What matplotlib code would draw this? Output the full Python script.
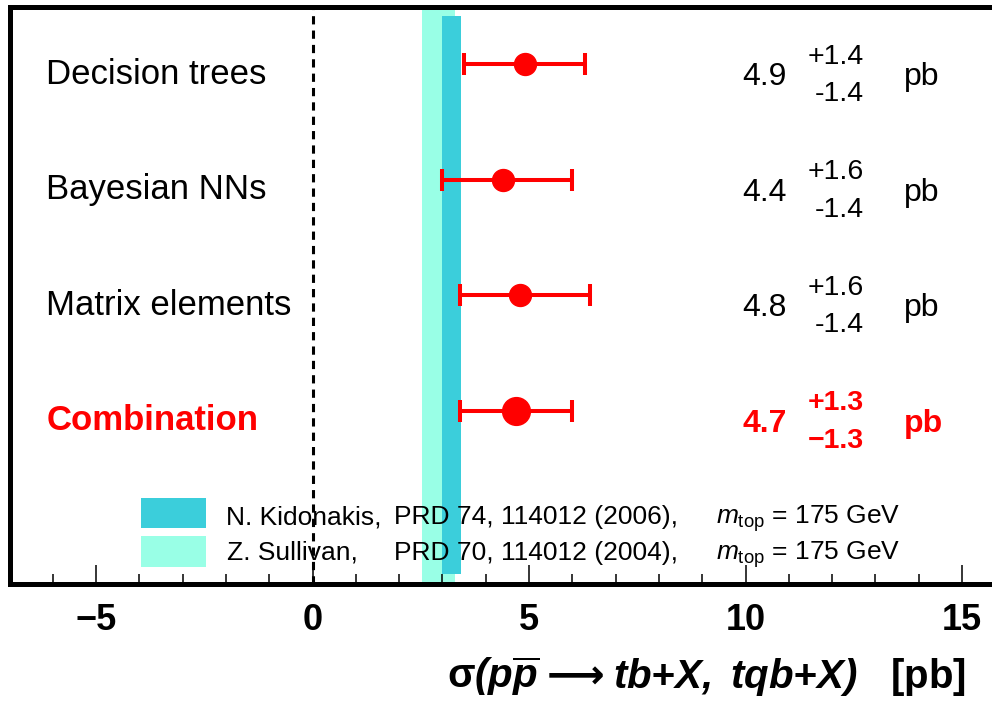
import matplotlib
matplotlib.use("Agg")
import matplotlib.pyplot as plt
from matplotlib.patches import Rectangle
from matplotlib.ticker import MultipleLocator

plt.rcParams['font.family'] = ['Liberation Sans', 'DejaVu Sans']
plt.rcParams['mathtext.fontset'] = 'custom'
plt.rcParams['mathtext.rm'] = 'Liberation Sans'
plt.rcParams['mathtext.it'] = 'Liberation Sans:italic'
plt.rcParams['mathtext.bf'] = 'Liberation Sans:bold'
plt.rcParams['mathtext.bfit'] = 'Liberation Sans:italic:bold'

# ---- data ----
methods = ['Decision trees', 'Bayesian NNs', 'Matrix elements', 'Combination']
central = [4.9, 4.4, 4.8, 4.7]
err_up = [1.4, 1.6, 1.6, 1.3]
err_dn = [1.4, 1.4, 1.4, 1.3]
rows = [4, 3, 2, 1]

theory_names = ['N. Kidonakis,', 'Z. Sullivan,']
theory_refs = ['PRD 74, 114012 (2006),', 'PRD 70, 114012 (2004),']
theory_lo = [2.99, 2.52]
theory_hi = [3.43, 3.28]
theory_colors = ['#3BCEDB', '#99FFE6']

RED = '#FF0000'

fig = plt.figure(figsize=(9.92, 7.08), dpi=100)
ax = fig.add_axes([9.5 / 992, 124 / 708, 985 / 992, 577.5 / 708])
ax.set_xlim(-7, 15.75)
ax.set_ylim(-0.5, 4.5)

# theory bands
ax.axvspan(theory_lo[1], theory_hi[1], ymin=0.0, ymax=1.0, color=theory_colors[1], lw=0, zorder=1)
ax.axvspan(theory_lo[0], theory_hi[0], ymin=0.018, ymax=0.984, color=theory_colors[0], lw=0, zorder=2)

# zero line
ax.axvline(0, color='black', lw=2.2, ls=(0, (2.7, 2.0)), zorder=3)

# measurements
for i, (c, up, dn, y) in enumerate(zip(central, err_up, err_dn, rows)):
    comb = (i == len(methods) - 1)
    ax.errorbar([c], [y], xerr=[[dn], [up]], fmt='o', color=RED,
                ms=20 if comb else 15.8, elinewidth=2.9, capsize=7.9,
                capthick=2.9, zorder=5)

# text annotations
for i, (name, c, up, dn, y) in enumerate(zip(methods, central, err_up, err_dn, rows)):
    comb = (i == len(methods) - 1)
    col = RED if comb else 'black'
    fw = 'bold' if comb else 'normal'
    ax.text(-6.15, y - 0.17, name, fontsize=25, color=col, fontweight=fw,
            ha='left', va='baseline', zorder=6)
    ax.text(9.93, y - 0.18, f'{c:.1f}', fontsize=23, color=col, fontweight=fw,
            ha='left', va='baseline', zorder=6)
    ax.text(12.73, y + 0.005, f'+{up:.1f}', fontsize=20.5, color=col, fontweight=fw,
            ha='right', va='baseline', zorder=6)
    minus = '\u2212' if comb else '-'
    ax.text(12.73, y - 0.32, f'{minus}{dn:.1f}', fontsize=20.5, color=col, fontweight=fw,
            ha='right', va='baseline', zorder=6)
    ax.text(13.65, y - 0.18, 'pb', fontsize=23, color=col, fontweight=fw,
            ha='left', va='baseline', zorder=6)

# legend (hand placed)
box_y = [(-0.015, 0.245), (-0.353, -0.084)]
text_y = [0.019, -0.292]
name_x = [-2.01, -1.97]
for k in range(2):
    ax.add_patch(Rectangle((-3.97, box_y[k][0]), 1.5, box_y[k][1] - box_y[k][0],
                           color=theory_colors[k], lw=0, zorder=4))
    ax.text(name_x[k], text_y[k], theory_names[k], fontsize=19, ha='left', va='baseline', zorder=6)
    ax.text(1.87, text_y[k], theory_refs[k], fontsize=19, ha='left', va='baseline', zorder=6)
    ax.text(9.31, text_y[k], r'$m_{\rm top}$ = 175 GeV', fontsize=19, ha='left', va='baseline', zorder=6)

# axes styling
for s in ax.spines.values():
    s.set_linewidth(3.6)
    s.set_zorder(10)
ax.set_yticks([])
ax.xaxis.set_major_locator(MultipleLocator(5))
ax.xaxis.set_minor_locator(MultipleLocator(1))
ax.tick_params(axis='x', which='major', direction='in', length=13.7, width=1.1,
               labelsize=26, pad=14, top=False)
ax.tick_params(axis='x', which='minor', direction='in', length=7.2, width=1.1, top=False)
for lab in ax.get_xticklabels():
    lab.set_fontweight('bold')

# x-axis title built from pieces (so the arrow can come from DejaVu Sans)
pieces = [
    (r'$\mathbf{\sigma}\mathbfit{(p\overline{p}}$', ['Liberation Sans']),
    ('\u2009\u27f6\u2009', ['DejaVu Sans']),
    (r'$\mathbfit{tb{+}X,\ tqb{+}X)}$   $\mathbf{[pb]}$', ['Liberation Sans']),
]
renderer = fig.canvas.get_renderer()
x_px = 447.0
base_y = (708 - 688) / 708
for txt, fam in pieces:
    t = fig.text(x_px / 992, base_y, txt, fontsize=29, fontweight='bold',
                 family=fam, ha='left', va='baseline')
    bb = t.get_window_extent(renderer=renderer)
    x_px = bb.x1

fig.savefig('out.png', dpi=100, facecolor='white')
